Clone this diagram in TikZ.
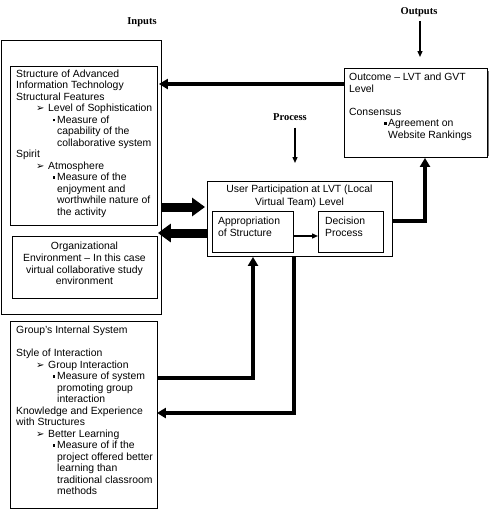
\documentclass[tikz,border=0pt]{standalone}
\usepackage{fontspec}
\setmainfont{Liberation Sans}
\newfontfamily\symfont{DejaVu Sans}
\newfontfamily\labfont{Liberation Serif}
\usetikzlibrary{arrows.meta}
\newcommand\sqbul{\makebox[4.5pt][l]{\rule[1.8pt]{2.8pt}{2.8pt}}}
\newcommand\arrl[1]{\hspace*{20pt}\makebox[12pt][l]{{\symfont\fontsize{10}{10}\selectfont ➢}}#1}
\newcommand\bull[1]{\hspace*{36.5pt}\sqbul#1}
\newcommand\cont[1]{\hspace*{41pt}#1}
\begin{document}
\begin{tikzpicture}[x=1pt,y=-1pt,
  box/.style={draw, line width=0.9pt, anchor=north west, inner sep=0pt},
  txt/.style={anchor=north west, inner sep=0pt, align=left, font=\fontsize{10.4}{11.5}\selectfont},
  ctxt/.style={anchor=north, inner sep=0pt, align=center, font=\fontsize{10.4}{11.7}\selectfont},
  lab/.style={font=\labfont\bfseries\fontsize{10.5}{12}\selectfont, inner sep=0pt},
  thinarr/.style={line width=1.3pt, -{Triangle[length=6pt,width=5pt]}},
  conn/.style={line width=3.5pt, -{Triangle[length=9pt,width=10pt]}},
  block/.style={line width=9pt, -{Triangle[length=13pt,width=18pt]}},
]
\useasboundingbox[fill=white] (0,0) rectangle (490,515);

% labels
\node[lab] (inlab) at (142,22) {Inputs};
\node[lab] (outlab) at (419,12) {Outputs};
\node[lab] (proclab) at (290,117) {Process};

% boxes
\node[box, minimum width=160pt, minimum height=274pt] (inbox) at (1,40) {};
\node[box, minimum width=147pt, minimum height=159pt] (struct) at (10,66) {};
\node[box, minimum width=145pt, minimum height=62pt] (org) at (12,236) {};
\node[box, minimum width=147pt, minimum height=187pt] (group) at (10,321) {};
\node[box, minimum width=185pt, minimum height=75pt] (process) at (207,181) {};
\node[box, minimum width=81pt, minimum height=41pt] (approp) at (212,211) {};
\node[box, minimum width=65pt, minimum height=41pt] (decision) at (318,211) {};
\node[box, minimum width=143pt, minimum height=89pt] (outcome) at (344,68) {};
\draw[line width=1.5pt, black!55] (488.5,71) -- (488.5,156);

% texts
\node[txt] (structtxt) at (16,69.5) {Structure of Advanced\\
Information Technology\\
Structural Features\\
\arrl{Level of Sophistication}\\
\bull{Measure of}\\
\cont{capability of the}\\
\cont{collaborative system}\\
Spirit\\
\arrl{Atmosphere}\\
\bull{Measure of the}\\
\cont{enjoyment and}\\
\cont{worthwhile nature of}\\
\cont{the activity}};

\node[ctxt] (orgtxt) at (84.5,242) {Organizational\\
Environment -- In this case\\
virtual collaborative study\\
environment};

\node[txt] (grouptxt) at (16,326) {Group's Internal System\\
\mbox{}\\
Style of Interaction\\
\arrl{Group Interaction}\\
\bull{Measure of system}\\
\cont{promoting group}\\
\cont{interaction}\\
Knowledge and Experience\\
with Structures\\
\arrl{Better Learning}\\
\bull{Measure of if the}\\
\cont{project offered better}\\
\cont{learning than}\\
\cont{traditional classroom}\\
\cont{methods}};

\node[txt] (outtxt) at (349,73) {Outcome -- LVT and GVT\\
Level\\
\mbox{}\\
Consensus\\
\hspace*{34.5pt}\sqbul Agreement on\\
\hspace*{39pt}Website Rankings};

\node[ctxt, font=\fontsize{10.4}{12.4}\selectfont] (proctxt) at (299.5,185) {User Participation at LVT (Local\\
Virtual Team) Level};
\node[txt] (approptxt) at (218,217) {Appropriation\\of Structure};
\node[txt] (decisiontxt) at (325,217) {Decision\\Process};

% helper coordinates
\coordinate (y84) at (0,84);
\coordinate (y207) at (0,207);
\coordinate (y221) at (0,221);
\coordinate (y233) at (0,233);
\coordinate (y236) at (0,236);
\coordinate (y378) at (0,378);
\coordinate (y413) at (0,413);
\coordinate (x253) at (253,0);
\coordinate (x294) at (294,0);
\coordinate (x295) at (295,0);
\coordinate (x420) at (420,0);
\coordinate (x425) at (425,0);

% connectors
\draw[thinarr, shorten <=4pt, shorten >=11pt] (x420 |- outlab.south) -- (x420 |- outcome.north);
\draw[thinarr, shorten <=7pt, shorten >=18pt] (x295 |- proclab.south) -- (x295 |- process.north);
\draw[conn, shorten >=-3pt] (outcome.west |- y84) -- (inbox.east |- y84);
\draw[block, shorten <=-1pt, shorten >=2pt] (inbox.east |- y207) -- (process.west |- y207);
\draw[block, shorten >=-4pt] (process.west |- y233) -- (inbox.east |- y233);
\draw[conn] (process.east |- y221) -| (x425 |- outcome.south);
\draw[conn] (group.east |- y378) -| (x253 |- process.south);
\draw[conn, shorten >=-1pt] (x294 |- process.south) |- (group.east |- y413);
\draw[thinarr] (approp.east |- y236) -- (decision.west |- y236);
\end{tikzpicture}
\end{document}
